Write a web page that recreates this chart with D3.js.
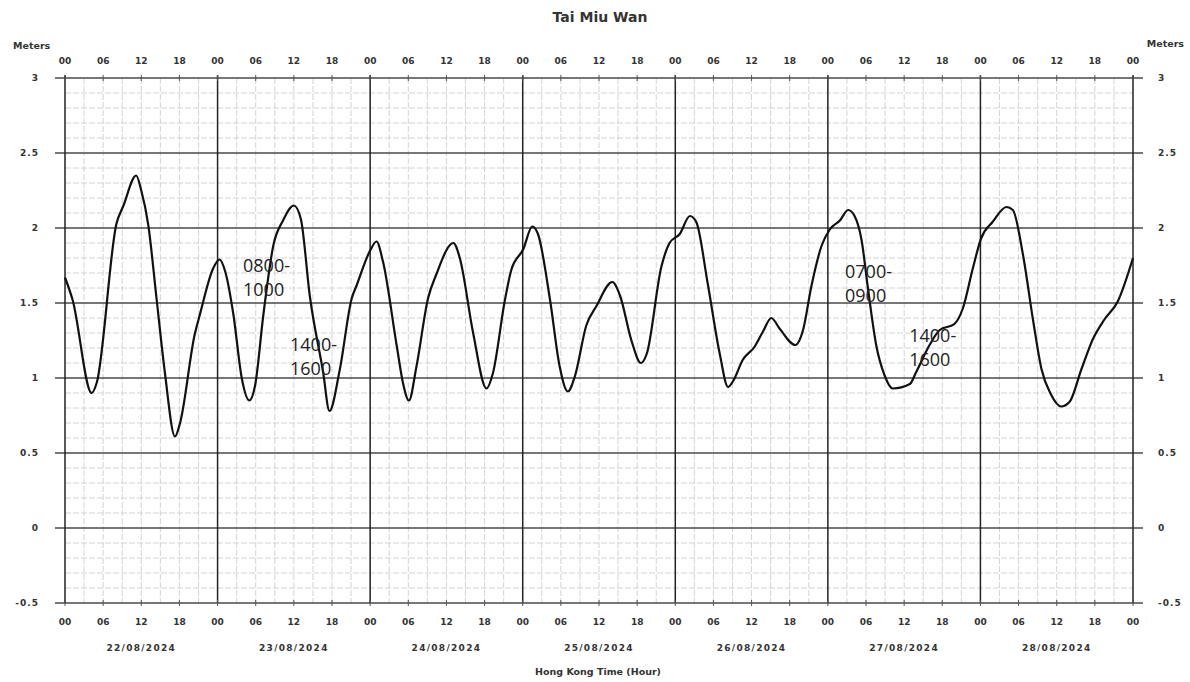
<!DOCTYPE html>
<html>
<head>
<meta charset="utf-8">
<script src="https://cdn.jsdelivr.net/npm/d3@7/dist/d3.min.js"></script>
<style>
  html, body { margin: 0; padding: 0; background: #fff; }
  svg { display: block; }
</style>
</head>
<body>
<svg id="chart" width="1190" height="682"></svg>
<script>
// ---- Data ----
const title = "Tai Miu Wan";
const dates = ["22/08/2024", "23/08/2024", "24/08/2024", "25/08/2024", "26/08/2024", "27/08/2024", "28/08/2024"];
const hourTickLabels = ["00", "06", "12", "18"];
const yTicks = [-0.5, 0, 0.5, 1, 1.5, 2, 2.5, 3];
const yTickLabels = ["-0.5", "0", "0.5", "1", "1.5", "2", "2.5", "3"];
// hours since 00:00 on 22/08/2024
const hours = [0, 1.2, 4.2, 5, 8.1, 9.2, 11.2, 12, 13.1, 14.4, 15.7, 17.3, 18.1, 20.4, 21.2, 23.3,
  24.3, 25.2, 26.5, 27.8, 29.0, 29.9, 31.2, 32.8, 34.3, 36.0, 37.1, 38.5, 40.6, 41.6, 43.2,
  45.1, 45.9, 48.0, 49.0, 50.0, 52.2, 53.2, 54.1, 55.3, 57.1, 58.4, 61.1, 62.1, 64.2, 66.3, 67.3,
  69.2, 70.2, 72.1, 73.5, 74.4, 76.3, 77.8, 79.1, 80.2, 82.0, 83.6, 86.1, 87.3, 89.1, 90.6, 91.5,
  93.8, 95.1, 96.7, 98.3, 99.3, 101.1, 103.0, 104.3, 105.1, 106.6, 108.5, 109.8, 111.1, 112.4,
  114.9, 116.1, 117.4, 119.0, 120.3, 121.9, 123.2, 124.2, 125.3, 126.3, 127.6, 128.9, 130.2,
  132.9, 133.9, 136.0, 137.6, 139.9, 141.2, 142.8, 144.1, 145.9, 148.1, 149.1, 150.7, 152.3,
  153.6, 155.1, 156.7, 158.0, 159.9, 161.7, 163.5, 165.6, 168];
const levels = [1.67, 1.52, 0.90, 0.97, 2.03, 2.15, 2.35, 2.25, 2.02, 1.53, 1.04, 0.61, 0.70, 1.29, 1.42, 1.73,
  1.79, 1.71, 1.42, 1.00, 0.85, 0.95, 1.42, 1.89, 2.05, 2.15, 2.06, 1.55, 1.04, 0.78, 1.05,
  1.53, 1.62, 1.85, 1.91, 1.78, 1.21, 0.96, 0.85, 1.08, 1.53, 1.69, 1.90, 1.80, 1.30, 0.93, 1.03,
  1.52, 1.72, 1.86, 2.01, 1.96, 1.52, 1.08, 0.91, 1.01, 1.35, 1.48, 1.64, 1.55, 1.25, 1.10, 1.16,
  1.74, 1.90, 1.96, 2.08, 2.04, 1.63, 1.16, 0.94, 0.98, 1.12, 1.21, 1.31, 1.40, 1.33,
  1.22, 1.32, 1.61, 1.88, 1.99, 2.05, 2.12, 2.08, 1.92, 1.60, 1.22, 1.02, 0.93,
  0.96, 1.04, 1.22, 1.32, 1.36, 1.46, 1.73, 1.93, 2.04, 2.14, 2.12, 1.82, 1.38,
  1.06, 0.89, 0.81, 0.84, 1.06, 1.26, 1.39, 1.51, 1.80];
// annotations: [hour, level, line1, line2]
const noteHours = [28, 35.4, 122.7, 132.8];
const noteLevels = [1.71, 1.18, 1.67, 1.24];
const noteLine1 = ["0800-", "1400-", "0700-", "1400-"];
const noteLine2 = ["1000", "1600", "0900", "1600"];

// ---- Layout ----
const svg = d3.select("#chart");
const L = 65, R = 1133, T = 78, B = 603;
const totalHours = dates.length * 24;
const x = d3.scaleLinear().domain([0, totalHours]).range([L, R]);
const y = d3.scaleLinear().domain([-0.5, 3]).range([B, T]);
const labelFont = "'DejaVu Sans', Verdana, sans-serif";

const g = svg.append("g");

// minor grid: every 0.1 m and every 3 h
const minorY = d3.range(-5, 31).map(d => d / 10).filter(v => Math.abs(v * 2 - Math.round(v * 2)) > 1e-6);
g.append("g").selectAll("line").data(minorY).join("line")
  .attr("x1", L).attr("x2", R)
  .attr("y1", d => y(d)).attr("y2", d => y(d))
  .attr("stroke", "#d4d4d4").attr("stroke-width", 1).attr("stroke-dasharray", "6,2");
const minorX = d3.range(0, totalHours + 1, 3).filter(h => h % 24 !== 0);
g.append("g").selectAll("line").data(minorX).join("line")
  .attr("x1", d => x(d)).attr("x2", d => x(d))
  .attr("y1", T).attr("y2", B)
  .attr("stroke", "#d4d4d4").attr("stroke-width", 1).attr("stroke-dasharray", "6,2");

// major horizontal grid lines (extend slightly past plot like ticks)
g.append("g").selectAll("line").data(yTicks).join("line")
  .attr("x1", L - 10).attr("x2", R + 10)
  .attr("y1", d => y(d)).attr("y2", d => y(d))
  .attr("stroke", "#4a4a4a").attr("stroke-width", 1.4);

// day boundary lines
const dayLines = d3.range(0, totalHours + 1, 24);
g.append("g").selectAll("line").data(dayLines).join("line")
  .attr("x1", d => x(d)).attr("x2", d => x(d))
  .attr("y1", T - 3).attr("y2", B)
  .attr("stroke", "#222").attr("stroke-width", 1.5);

// 6-hour tick marks top and bottom
const sixHours = d3.range(0, totalHours + 1, 6);
g.append("g").selectAll("line").data(sixHours).join("line")
  .attr("x1", d => x(d)).attr("x2", d => x(d))
  .attr("y1", T - 3).attr("y2", T + 3)
  .attr("stroke", "#555").attr("stroke-width", 1);
g.append("g").selectAll("line").data(sixHours).join("line")
  .attr("x1", d => x(d)).attr("x2", d => x(d))
  .attr("y1", B - 3).attr("y2", B + 3)
  .attr("stroke", "#555").attr("stroke-width", 1);

// hour labels top and bottom
const hourLabel = h => hourTickLabels[(h % 24) / 6];
[T - 17, B + 19].forEach(yy => {
  g.append("g").selectAll("text").data(sixHours).join("text")
    .attr("x", d => x(d)).attr("y", yy)
    .attr("text-anchor", "middle").attr("dominant-baseline", "middle")
    .attr("font-family", labelFont).attr("font-size", 9).attr("font-weight", "bold")
    .attr("fill", "#333")
    .text(hourLabel);
});

// y labels left and right
g.append("g").selectAll("text").data(yTicks).join("text")
  .attr("x", 39).attr("y", d => y(d))
  .attr("text-anchor", "end").attr("dominant-baseline", "middle")
  .attr("font-family", labelFont).attr("font-size", 9).attr("font-weight", "bold")
  .attr("letter-spacing", 1)
  .attr("fill", "#333")
  .text((d, i) => yTickLabels[i]);
g.append("g").selectAll("text").data(yTicks).join("text")
  .attr("x", 1158).attr("y", d => y(d))
  .attr("text-anchor", "start").attr("dominant-baseline", "middle")
  .attr("font-family", labelFont).attr("font-size", 9).attr("font-weight", "bold")
  .attr("letter-spacing", 1)
  .attr("fill", "#333")
  .text((d, i) => yTickLabels[i]);

// Meters labels
g.append("text").attr("x", 13).attr("y", 46).attr("dominant-baseline", "middle")
  .attr("font-family", labelFont).attr("font-size", 9.5).attr("font-weight", "bold").attr("fill", "#333")
  .text("Meters");
g.append("text").attr("x", 1184).attr("y", 44).attr("text-anchor", "end").attr("dominant-baseline", "middle")
  .attr("font-family", labelFont).attr("font-size", 9.5).attr("font-weight", "bold").attr("fill", "#333")
  .text("Meters");

// date labels
g.append("g").selectAll("text").data(dates).join("text")
  .attr("x", (d, i) => x(i * 24 + 12)).attr("y", 648)
  .attr("text-anchor", "middle").attr("dominant-baseline", "middle")
  .attr("font-family", labelFont).attr("font-size", 9).attr("font-weight", "bold")
  .attr("letter-spacing", 1.3)
  .attr("fill", "#333")
  .text(d => d);

// x axis title
g.append("text").attr("x", 598).attr("y", 672)
  .attr("text-anchor", "middle").attr("dominant-baseline", "middle")
  .attr("font-family", labelFont).attr("font-size", 9.5).attr("font-weight", "bold").attr("fill", "#333")
  .text("Hong Kong Time (Hour)");

// chart title
g.append("text").attr("x", 600).attr("y", 18)
  .attr("text-anchor", "middle").attr("dominant-baseline", "middle")
  .attr("font-family", labelFont).attr("font-size", 14).attr("font-weight", "bold").attr("fill", "#333")
  .text(title);

// tide line
const pts = hours.map((h, i) => [h, levels[i]]);
g.append("path")
  .datum(pts)
  .attr("fill", "none")
  .attr("stroke", "#111")
  .attr("stroke-width", 2.2)
  .attr("stroke-linejoin", "round")
  .attr("d", d3.line().x(d => x(d[0])).y(d => y(d[1])).curve(d3.curveMonotoneX));

// annotations
const notes = g.append("g");
noteHours.forEach((h, i) => {
  const t = notes.append("text")
    .attr("x", x(h)).attr("y", y(noteLevels[i]))
    .attr("font-family", "'Open Sans', 'Noto Sans', sans-serif")
    .attr("font-size", 18).attr("fill", "#222");
  t.append("tspan").attr("x", x(h)).attr("dy", 0).text(noteLine1[i]);
  t.append("tspan").attr("x", x(h)).attr("dy", 24).text(noteLine2[i]);
});
</script>
</body>
</html>
